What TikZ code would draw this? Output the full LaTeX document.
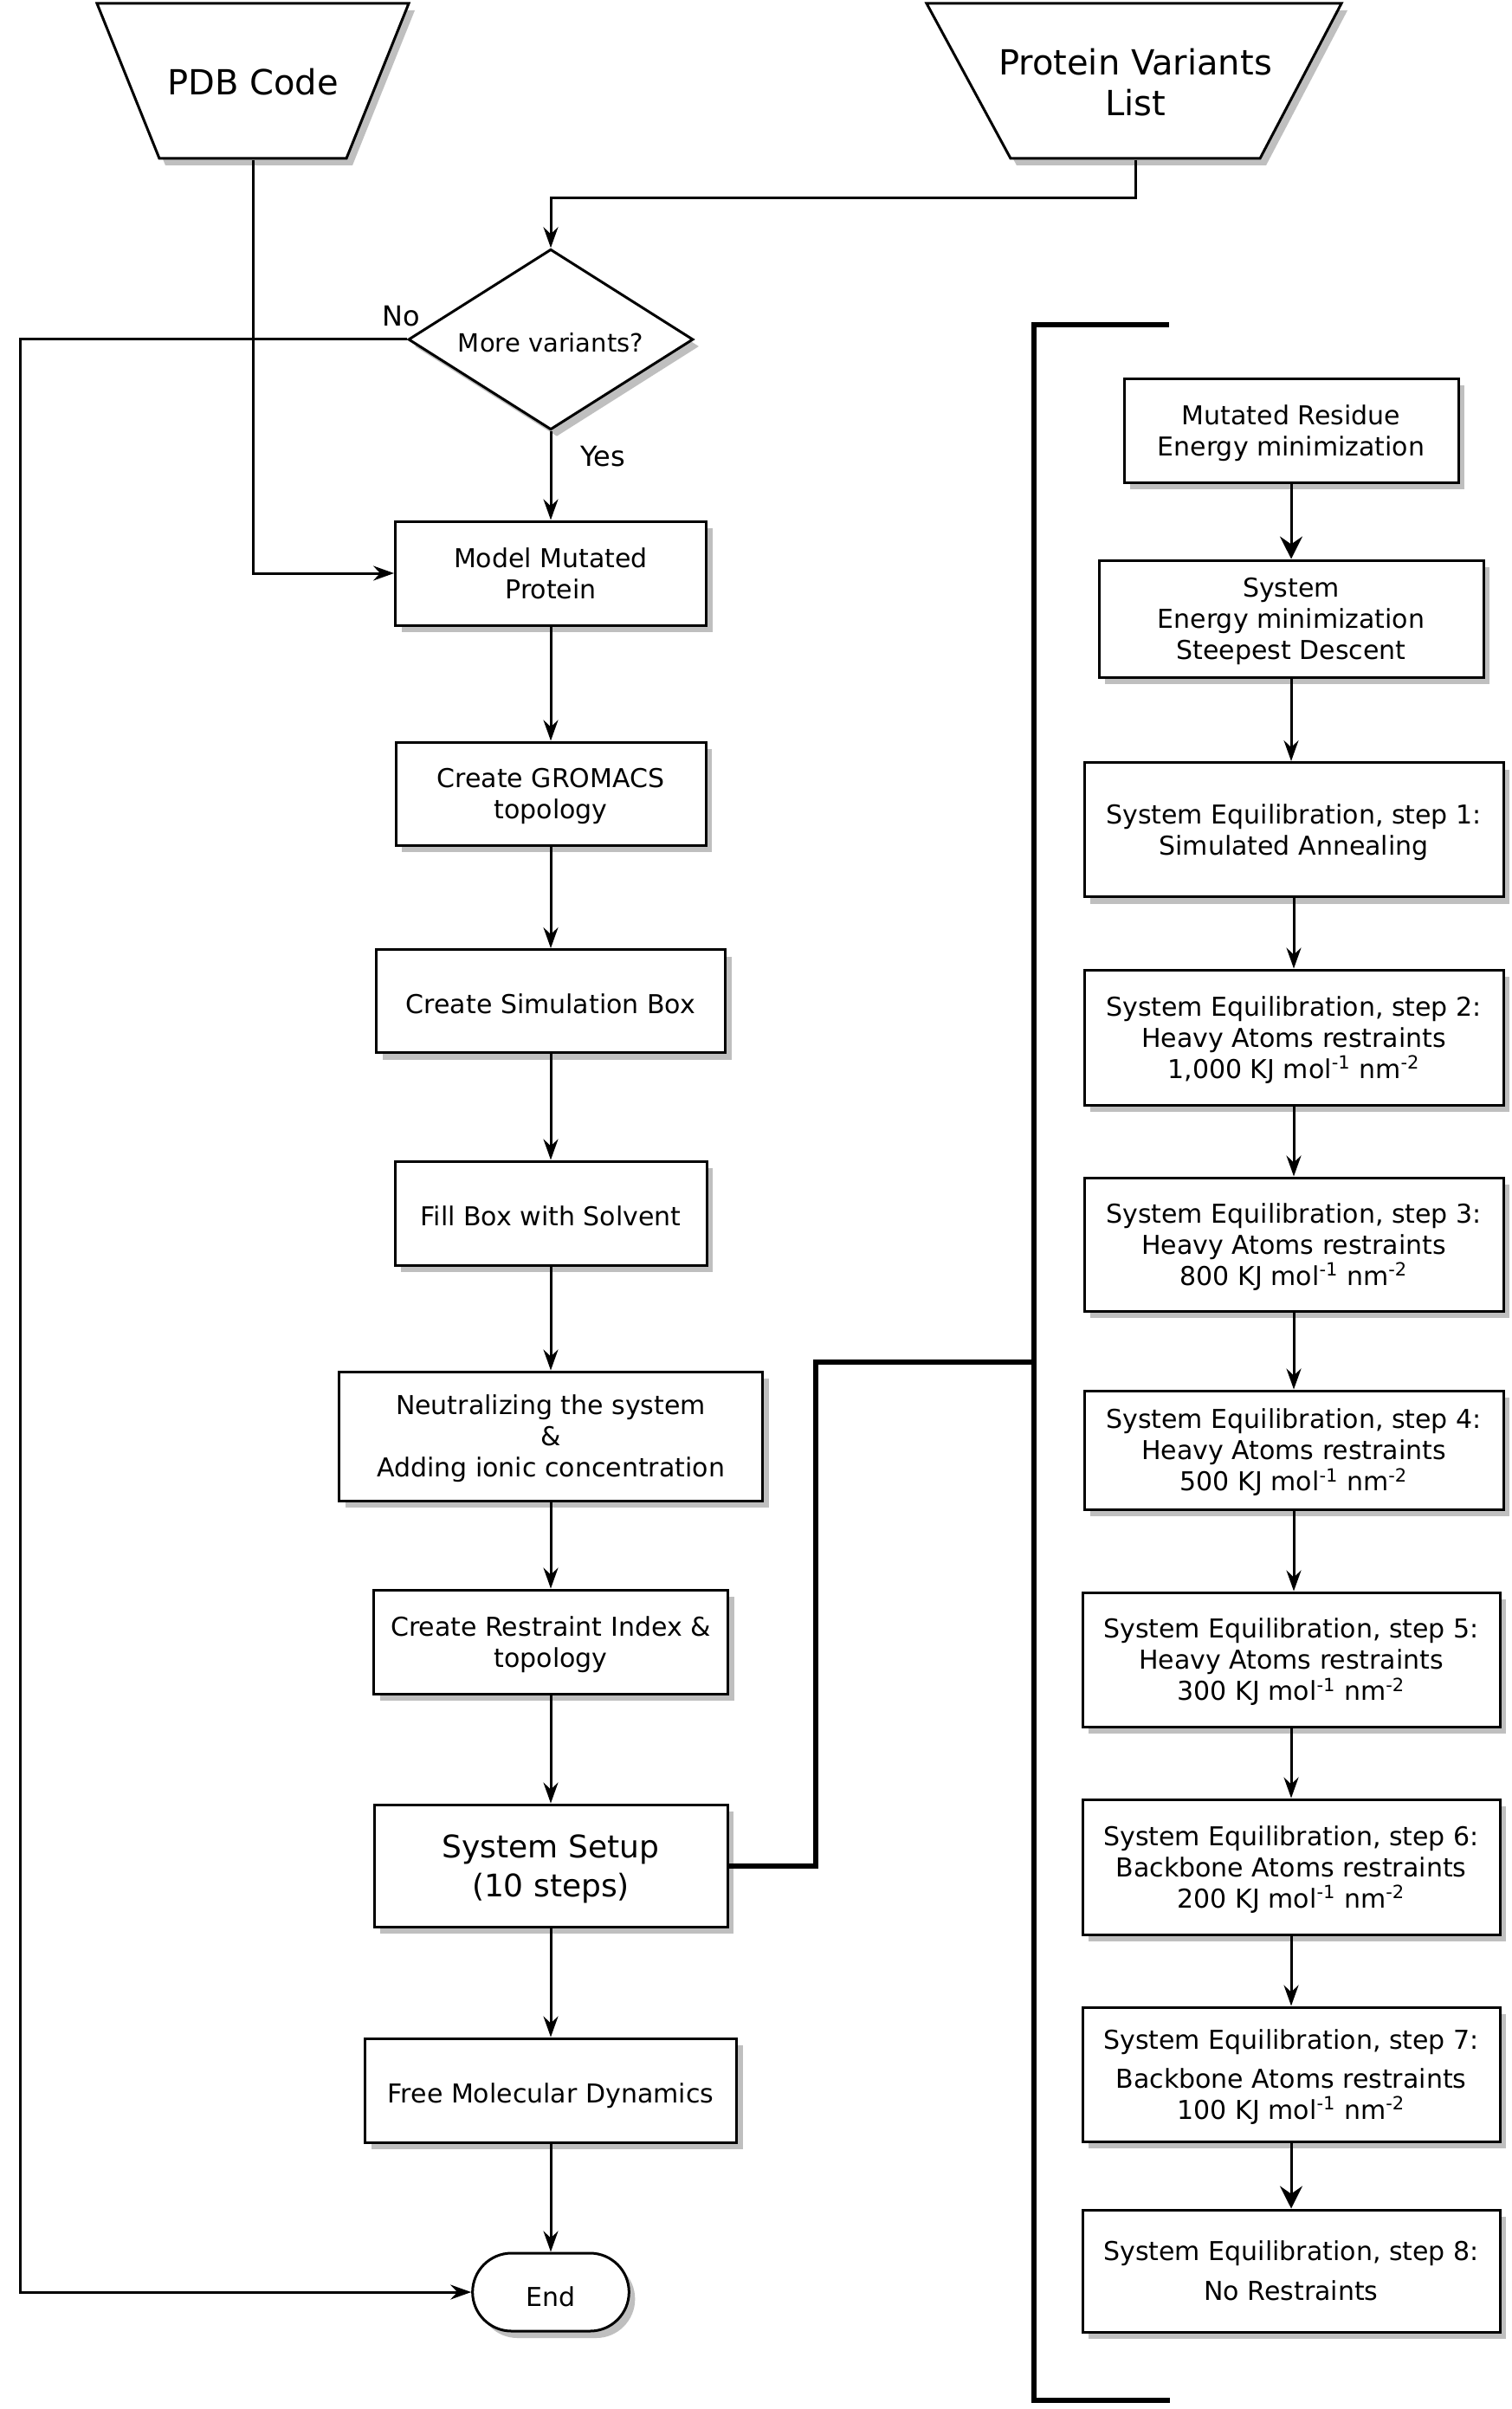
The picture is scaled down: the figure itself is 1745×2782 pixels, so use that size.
\documentclass[tikz,border=0pt]{standalone}
\usepackage{fontspec}
\setmainfont{DejaVu Sans}
\usetikzlibrary{shapes.geometric,shapes.misc,shadows,arrows.meta,positioning}

\newcommand{\kjunit}{KJ mol\textsuperscript{-1} nm\textsuperscript{-2}}

\tikzset{
  shade box/.style={drop shadow={shadow xshift=3.5pt, shadow yshift=-4pt, fill=black!25, opacity=1}},
  stepbox/.style={rectangle, draw, line width=1.5pt, fill=white, shade box, align=center,
    inner sep=0pt, text depth=-3pt, font=\fontsize{15}{18}\selectfont},
  oneline/.style={text height=16.7pt, text depth=2pt},
  inputshape/.style={draw, line width=1.5pt, fill=white, shade box},
  inputtext/.style={align=center, inner sep=0pt, font=\fontsize{20}{23.5}\selectfont},
  decision/.style={diamond, draw, line width=1.5pt, fill=white, shade box, aspect=1.58,
    inner sep=0pt, minimum width=164.5pt, minimum height=104.25pt, text height=15pt,
    font=\fontsize{14.5}{17}\selectfont},
  terminal/.style={rounded rectangle, draw, line width=1.5pt, fill=white, shade box,
    minimum width=97pt, minimum height=45pt, text height=16.7pt,
    font=\fontsize{15}{18}\selectfont},
  answer/.style={inner sep=0pt, font=\fontsize{16}{19}\selectfont},
  flow/.style={-{Stealth[length=12pt, width=8.5pt, inset=4pt]}, line width=1.5pt},
  bigflow/.style={-{Stealth[length=13pt, width=13pt, inset=4.5pt]}, line width=1.5pt},
  bracket/.style={line width=3pt}
}

\begin{document}
\begin{tikzpicture}[x=0.5pt, y=-0.5pt]
\useasboundingbox[fill=white] (0,0) rectangle (1745,2782);

% inputs
\filldraw[inputshape] (112,4) -- (472,4) -- (400,183) -- (184,183) -- cycle;
\node[inputtext, minimum width=108pt, minimum height=89.5pt] (pdb) at (292,95) {PDB Code};
\filldraw[inputshape] (1070,4) -- (1549,4) -- (1455,183) -- (1167,183) -- cycle;
\node[inputtext, minimum width=144pt, minimum height=89.5pt] (variants) at (1311,95) {Protein Variants\\List};

% main column
\node[decision] (more) at (636,392) {More variants?};
\node[answer] (no) at (463,365) {No};
\node[answer] (yes) at (696,527) {Yes};
\node[stepbox, minimum width=179.5pt, minimum height=60pt] (model) at (636,662) {Model Mutated\\Protein};
\node[stepbox, minimum width=179pt, minimum height=59.5pt] (gromacs) at (636,916.5) {Create GROMACS\\topology};
\node[stepbox, oneline, minimum width=201.5pt, minimum height=59.5pt] (simbox) at (636,1156) {Create Simulation Box};
\node[stepbox, oneline, minimum width=180pt, minimum height=60pt] (solvent) at (636,1401) {Fill Box with Solvent};
\node[stepbox, minimum width=244.5pt, minimum height=74.5pt] (neutral) at (636,1658.5) {Neutralizing the system\\\&\\Adding ionic concentration};
\node[stepbox, minimum width=204.5pt, minimum height=60pt] (restraint) at (636,1896) {Create Restraint Index \&\\topology};
\node[stepbox, minimum width=204pt, minimum height=70.5pt, font=\fontsize{18}{22.5}\selectfont] (setup) at (636,2154.5) {System Setup\\(10 steps)};
\node[stepbox, oneline, minimum width=214.5pt, minimum height=60pt] (freemd) at (636,2414) {Free Molecular Dynamics};
\node[terminal] (end) at (636,2647) {End};

% setup steps
\node[stepbox, minimum width=193pt, minimum height=60pt] (resmin) at (1491,497) {Mutated Residue\\Energy minimization};
\node[stepbox, minimum width=222pt, minimum height=67.5pt] (sysmin) at (1491,714.5) {System\\Energy minimization\\Steepest Descent};
\node[stepbox, minimum width=242pt, minimum height=77.5pt] (eq1) at (1494,958) {System Equilibration, step 1:\\Simulated Annealing};
\node[stepbox, minimum width=242pt, minimum height=78pt] (eq2) at (1494,1198) {System Equilibration, step 2:\\Heavy Atoms restraints\\1,000 \kjunit};
\node[stepbox, minimum width=242pt, minimum height=77pt] (eq3) at (1494,1437) {System Equilibration, step 3:\\Heavy Atoms restraints\\800 \kjunit};
\node[stepbox, minimum width=242pt, minimum height=68.5pt] (eq4) at (1494,1674.5) {System Equilibration, step 4:\\Heavy Atoms restraints\\500 \kjunit};
\node[stepbox, minimum width=241pt, minimum height=77.5pt] (eq5) at (1491,1916.5) {System Equilibration, step 5:\\Heavy Atoms restraints\\300 \kjunit};
\node[stepbox, minimum width=241pt, minimum height=78pt] (eq6) at (1491,2156) {System Equilibration, step 6:\\Backbone Atoms restraints\\200 \kjunit};
\node[stepbox, minimum width=241pt, minimum height=77.5pt, text depth=-5.5pt] (eq7) at (1491,2395.5) {System Equilibration, step 7:\\[4.5pt]Backbone Atoms restraints\\100 \kjunit};
\node[stepbox, minimum width=241pt, minimum height=70.5pt] (eq8) at (1491,2622.5) {System Equilibration, step 8:\\[5pt]No Restraints};

% connectors
\draw[flow] (variants.south) -- ++(0,44) -| (more.north);
\draw[flow] (pdb.south) |- (model.west);
\draw[flow] (more.south) -- (model.north);
\coordinate (noturn) at (23,392);
\draw[flow] (more.west) -- (noturn) |- (end.west);
\foreach \a/\b in {model/gromacs, gromacs/simbox, simbox/solvent, solvent/neutral,
                   neutral/restraint, restraint/setup, setup/freemd, freemd/end}
  \draw[flow] (\a.south) -- (\b.north);

\draw[bigflow] (resmin.south) -- (resmin.south |- sysmin.north);
\foreach \a/\b in {sysmin/eq1, eq1/eq2, eq2/eq3, eq3/eq4, eq4/eq5, eq5/eq6, eq6/eq7}
  \draw[flow] (\a.south) -- (\a.south |- \b.north);
\draw[bigflow] (eq7.south) -- (eq7.south |- eq8.north);

% bracket
\draw[bracket] (1350,375) -- (1194,375) -- (1194,2772) -- (1351,2772);
\coordinate (brk) at (1194,1573);
\draw[bracket] (setup.east) -- ++(100,0) |- (brk);
\end{tikzpicture}
\end{document}
